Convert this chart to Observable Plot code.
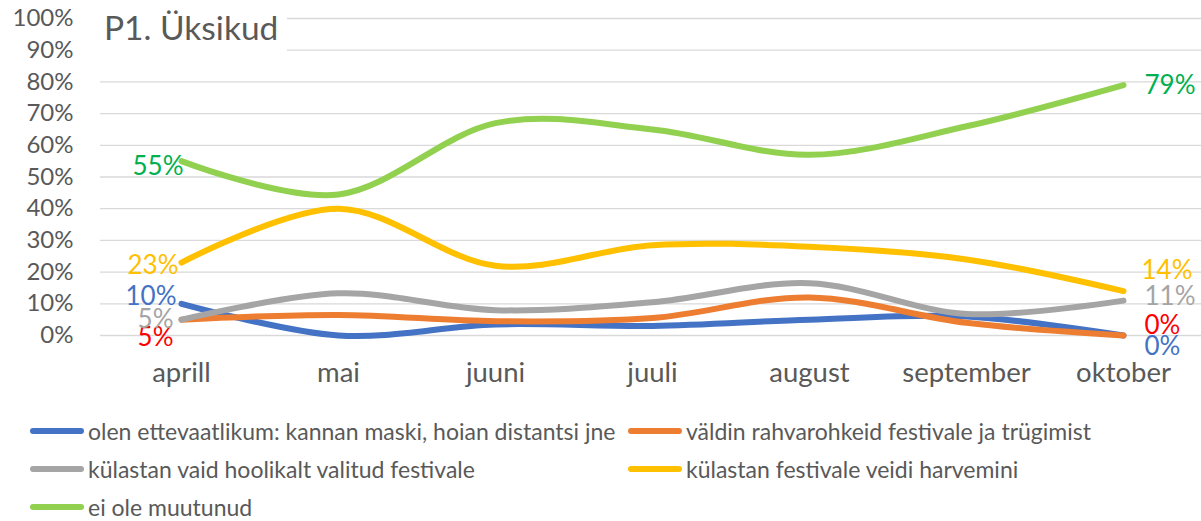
<!DOCTYPE html>
<html><head><meta charset="utf-8">
<script src="https://cdn.jsdelivr.net/npm/d3@7"></script>
<script src="https://cdn.jsdelivr.net/npm/@observablehq/plot@0.6"></script>
<style>
body{margin:0;background:#fff;font-family:Lato,sans-serif;}
#wrap{position:relative;width:1201px;height:521px;overflow:hidden;background:#fff;}
#title{position:absolute;left:100px;top:0;width:187px;height:62px;background:#fff;}
#title span{position:absolute;left:4px;top:11px;font-size:33.5px;line-height:1;color:#595959;white-space:nowrap;}
#legend{position:absolute;left:0;top:0;width:1201px;height:521px;pointer-events:none;}
.item{position:absolute;display:flex;align-items:center;font-size:23px;color:#595959;height:30px;white-space:nowrap;}
.sw{width:54px;height:6px;border-radius:3px;margin-right:4px;}
</style>
</head><body>
<div id="wrap"><div id="chart"></div><div id="title"><span>P1. Üksikud</span></div><div id="legend"></div></div>
<script>
const months = ["aprill","mai","juuni","juuli","august","september","oktober"];
const seriesNames = [
  "olen ettevaatlikum: kannan maski, hoian distantsi jne",
  "väldin rahvarohkeid festivale ja trügimist",
  "külastan vaid hoolikalt valitud festivale",
  "külastan festivale veidi harvemini",
  "ei ole muutunud"
];
const seriesColors = ["#4472C4","#ED7D31","#A5A5A5","#FFC000","#92D050"];
const labelColors = ["#4472C4","#FF0000","#A5A5A5","#FFC000","#00B050"];
const blue   = [10, 0, 3.5, 3, 5, 6, 0];
const orange = [5, 6.5, 4.5, 5.5, 12, 4, 0];
const gray   = [5, 13.3, 8, 10.5, 16.5, 6.8, 11];
const yellow = [23, 40, 22, 28.5, 28, 24, 14];
const green  = [55, 44.5, 67, 65, 57, 66, 79];
const yTicks = [0,10,20,30,40,50,60,70,80,90,100];

const allSeries = [blue, orange, gray, yellow, green];
const rows = [];
allSeries.forEach((vals, s) => vals.forEach((v, i) => rows.push({month: months[i], value: v, series: seriesNames[s]})));

// data-label nudges (style only)
const firstNudge = [[-5,-7],[-8,18],[-8,0],[-3,3],[2,6]];
const lastNudge  = [[21,11],[21,-10],[21,-4],[18,-20],[21,1]];

const labelMarks = [];
allSeries.forEach((vals, s) => {
  const i0 = 0, i1 = vals.length - 1;
  labelMarks.push(Plot.text([{month: months[i0], value: vals[i0]}], {
    x: "month", y: "value", text: d => Math.round(d.value) + "%", fill: labelColors[s],
    textAnchor: "end", dx: firstNudge[s][0], dy: firstNudge[s][1], fontSize: 26
  }));
  labelMarks.push(Plot.text([{month: months[i1], value: vals[i1]}], {
    x: "month", y: "value", text: d => Math.round(d.value) + "%", fill: labelColors[s],
    textAnchor: "start", dx: lastNudge[s][0], dy: lastNudge[s][1], fontSize: 26
  }));
});

const chart = Plot.plot({
  width: 1201, height: 400,
  marginLeft: 100, marginRight: 0, marginTop: 18, marginBottom: 65,
  x: {type: "point", domain: months, range: [178, 1125], padding: 0},
  y: {domain: [0, 100], range: [335, 18]},
  color: {domain: seriesNames, range: seriesColors},
  style: {fontFamily: "Lato, sans-serif", color: "#595959", background: "white", overflow: "visible"},
  marks: [
    Plot.ruleY(yTicks, {stroke: "#D9D9D9", strokeWidth: 1.3}),
    Plot.axisY({ticks: yTicks, tickFormat: d => d + "%", tickSize: 0, tickPadding: 27, fontSize: 24, label: null}),
    Plot.axisX({tickSize: 0, tickPadding: 27, fontSize: 27.5, label: null}),
    Plot.line(rows, {x: "month", y: "value", z: "series", stroke: "series", strokeWidth: 6, curve: "cardinal", strokeLinecap: "round", strokeLinejoin: "round"}),
    ...labelMarks
  ]
});
document.getElementById("chart").appendChild(chart);

const legend = document.getElementById("legend");
const colX = [30, 628];
const rowY = [431, 469, 507];
seriesNames.forEach((name, s) => {
  const it = document.createElement("div");
  it.className = "item";
  it.style.left = colX[s % 2] + "px";
  it.style.top = (rowY[Math.floor(s / 2)] - 15) + "px";
  const sw = document.createElement("span");
  sw.className = "sw";
  sw.style.background = seriesColors[s];
  const tx = document.createElement("span");
  tx.textContent = name;
  it.appendChild(sw); it.appendChild(tx);
  legend.appendChild(it);
});
</script>
</body></html>
